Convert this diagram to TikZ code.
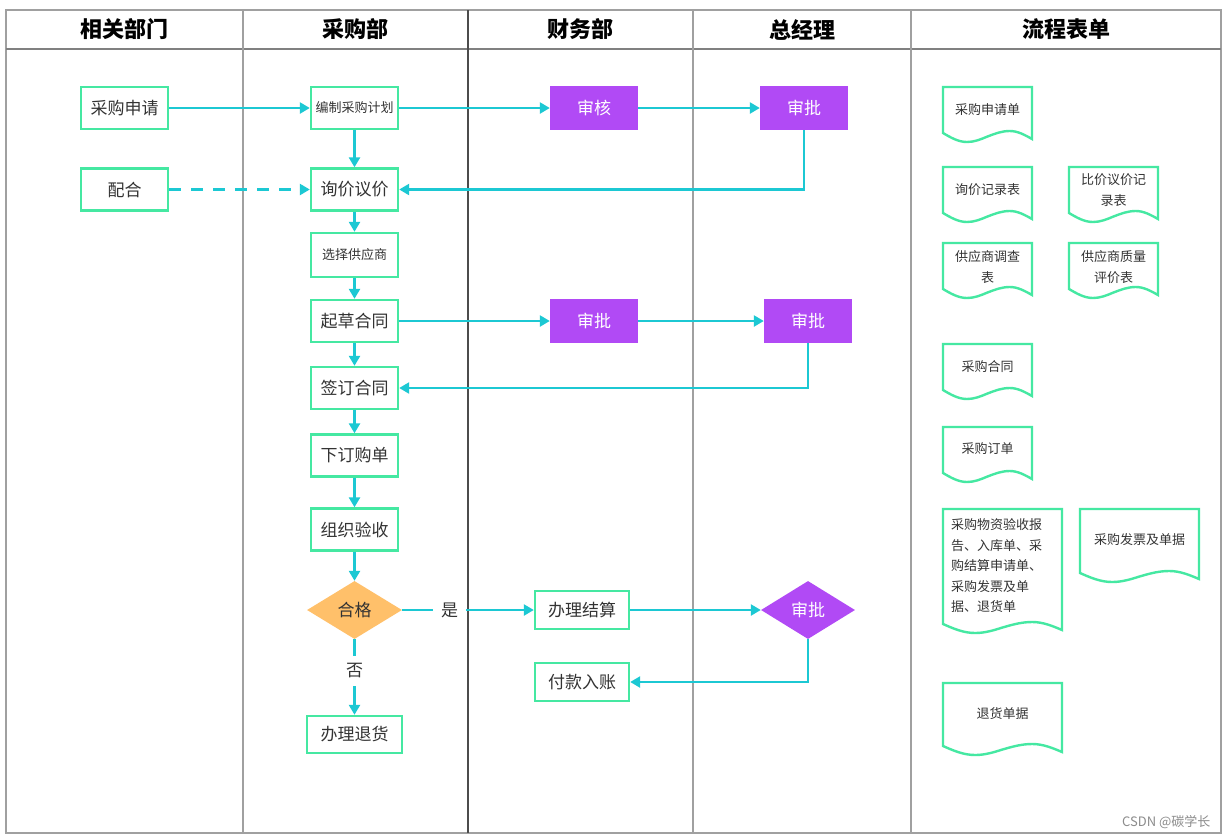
\documentclass[tikz,border=0pt]{standalone}
\usepackage{fontspec}
\setmainfont{Noto Sans CJK SC}
\usetikzlibrary{shapes.geometric, arrows.meta, positioning}
\definecolor{flowcyan}{HTML}{1CC8D3}
\definecolor{boxgreen}{HTML}{45E8A2}
\definecolor{checkpurple}{HTML}{B14AF5}
\definecolor{passorange}{HTML}{FFC06A}
\definecolor{lanegray}{HTML}{A0A0A0}
\definecolor{inkgray}{HTML}{333333}

% document sheet with wavy bottom: left, top, right, bottom
\newcommand{\docsheet}[4]{%
  \draw[docline] (#1,{#4-9}) -- (#1,#2) -- (#3,#2) -- (#3,{#4-3})
    sin ({#3-0.25*(#3-#1)},{#4-11}) cos ({0.5*(#1+#3)},{#4-5.5})
    sin ({#1+0.27*(#3-#1)},#4) cos (#1,{#4-9}) -- cycle;}

\begin{document}
\begin{tikzpicture}[x=1pt, y=-1pt]
\tikzstyle{lanetitle} = [font=\fontsize{22}{26}\selectfont\bfseries, text=black]
\tikzstyle{stepbox} = [rectangle, draw=boxgreen, line width=2.4pt, fill=white, minimum width=87pt, minimum height=42pt, inner sep=0pt, text=inkgray, font=\fontsize{17}{20}\selectfont]
\tikzstyle{smallstep} = [stepbox, font=\fontsize{13}{16}\selectfont]
\tikzstyle{approve} = [rectangle, fill=checkpurple, minimum width=88pt, minimum height=44pt, inner sep=0pt, text=white, font=\fontsize{17}{20}\selectfont]
\tikzstyle{decision} = [diamond, minimum width=95pt, minimum height=58pt, inner sep=0pt, font=\fontsize{17}{20}\selectfont]
\tikzstyle{flow} = [-{Triangle[length=10pt, width=11pt]}, flowcyan, line width=2.4pt]
\tikzstyle{flowlabel} = [fill=white, text=inkgray, font=\fontsize{17}{20}\selectfont, inner xsep=8pt, inner ysep=8pt]
\tikzstyle{docline} = [draw=boxgreen, line width=2.4pt]
\tikzstyle{doctext} = [text=inkgray, font=\fontsize{13}{20.5}\selectfont, align=center, inner sep=0pt]

\useasboundingbox (0,0) rectangle (1229,839);
\fill[white] (0,0) rectangle (1229,839);

% swimlanes
\draw[lanegray, line width=1.4pt] (6,10) rectangle (1221,833);
\draw[lanegray!80!black, line width=1.2pt] (6,49) -- (1221,49);
\draw[lanegray, line width=1.4pt] (243,10) -- (243,833);
\draw[black!70, line width=1.2pt] (468,10) -- (468,833);
\draw[lanegray, line width=1.4pt] (693,10) -- (693,833);
\draw[lanegray, line width=1.4pt] (911,10) -- (911,833);

\node[lanetitle] (lanedept) at (124.5,29.5) {相关部门};
\node[lanetitle] (lanebuy) at (355.5,29.5) {采购部};
\node[lanetitle] (lanefin) at (580.5,29.5) {财务部};
\node[lanetitle] (lanegm) at (802,29.5) {总经理};
\node[lanetitle] (laneform) at (1066,29.5) {流程表单};

% steps
\node[stepbox] (request) at (124.5,108) {采购申请};
\node[stepbox] (assist) at (124.5,189.5) {配合};
\node[smallstep] (plan) at (354.5,108) {编制采购计划};
\node[stepbox] (inquire) at (354.5,189.5) {询价议价};
\node[smallstep, minimum height=44pt] (choose) at (354.5,255) {选择供应商};
\node[stepbox] (draft) at (354.5,321) {起草合同};
\node[stepbox] (sign) at (354.5,388) {签订合同};
\node[stepbox] (order) at (354.5,455.5) {下订购单};
\node[stepbox] (accept) at (354.5,529.5) {组织验收};
\node[decision, fill=passorange, text=inkgray] (pass) at (354.5,610) {合格};
\node[stepbox, minimum width=95pt, minimum height=37pt] (goodsback) at (354.5,734.5) {办理退货};

\node[approve] (audit) at (594,108) {审核};
\node[approve] (gmok1) at (804,108) {审批};
\node[approve] (finok) at (594,321) {审批};
\node[approve] (gmok2) at (808,321) {审批};
\node[stepbox, minimum width=94pt, minimum height=38pt] (settle) at (582,610) {办理结算};
\node[stepbox, minimum width=94pt, minimum height=38pt] (pay) at (582,682) {付款入账};
\node[decision, fill=checkpurple, text=white, minimum width=94pt] (gmok3) at (808,610) {审批};

% connectors
\draw[flow] (request) -- (plan);
\draw[flow] (plan) -- (audit);
\draw[flow] (audit) -- (gmok1);
\draw[flow, dash pattern=on 12pt off 10pt] (assist) -- (inquire);
\draw[flow] (gmok1.south) |- (inquire.east);
\foreach \a/\b in {plan/inquire, inquire/choose, choose/draft, draft/sign, sign/order, order/accept, accept/pass} {
    \draw[flow] (\a) -- (\b);
}
\draw[flow] (draft) -- (finok);
\draw[flow] (finok) -- (gmok2);
\draw[flow] (gmok2.south) |- (sign.east);
\draw[flow] (pass) -- node[flowlabel, pos=0.36] (yes) {是} (settle);
\draw[flow] (pass) -- node[flowlabel, pos=0.42] (no) {否} (goodsback);
\draw[flow] (settle) -- (gmok3);
\draw[flow] (gmok3.south) |- (pay.east);

% forms
\docsheet{943}{87}{1032}{142}
\node[doctext] (form1) at (987.5,110) {采购申请单};
\docsheet{943}{167}{1032}{222}
\node[doctext] (form2) at (987.5,190) {询价记录表};
\docsheet{1069}{167}{1158}{222}
\node[doctext] (form3) at (1113.5,190) {比价议价记\\录表};
\docsheet{943}{243}{1032}{298}
\node[doctext] (form4) at (987.5,267) {供应商调查\\表};
\docsheet{1069}{243}{1158}{298}
\node[doctext] (form5) at (1113.5,267) {供应商质量\\评价表};
\docsheet{943}{344}{1032}{399}
\node[doctext] (form6) at (987.5,367) {采购合同};
\docsheet{943}{427}{1032}{482}
\node[doctext] (form7) at (987.5,449) {采购订单};
\docsheet{943}{509}{1062}{633}
\node[doctext, align=left, anchor=west] (form8) at (951,566) {采购物资验收报\\告、入库单、采\\购结算申请单、\\采购发票及单\\据、退货单};
\docsheet{1080}{509}{1199}{582}
\node[doctext] (form9) at (1139.5,540) {采购发票及单据};
\docsheet{943}{683}{1062}{755}
\node[doctext] (form10) at (1002.5,714) {退货单据};

\node[text=black!45, font=\fontsize{13}{16}\selectfont, anchor=east] (mark) at (1214,822) {CSDN @碳学长};
\end{tikzpicture}
\end{document}
